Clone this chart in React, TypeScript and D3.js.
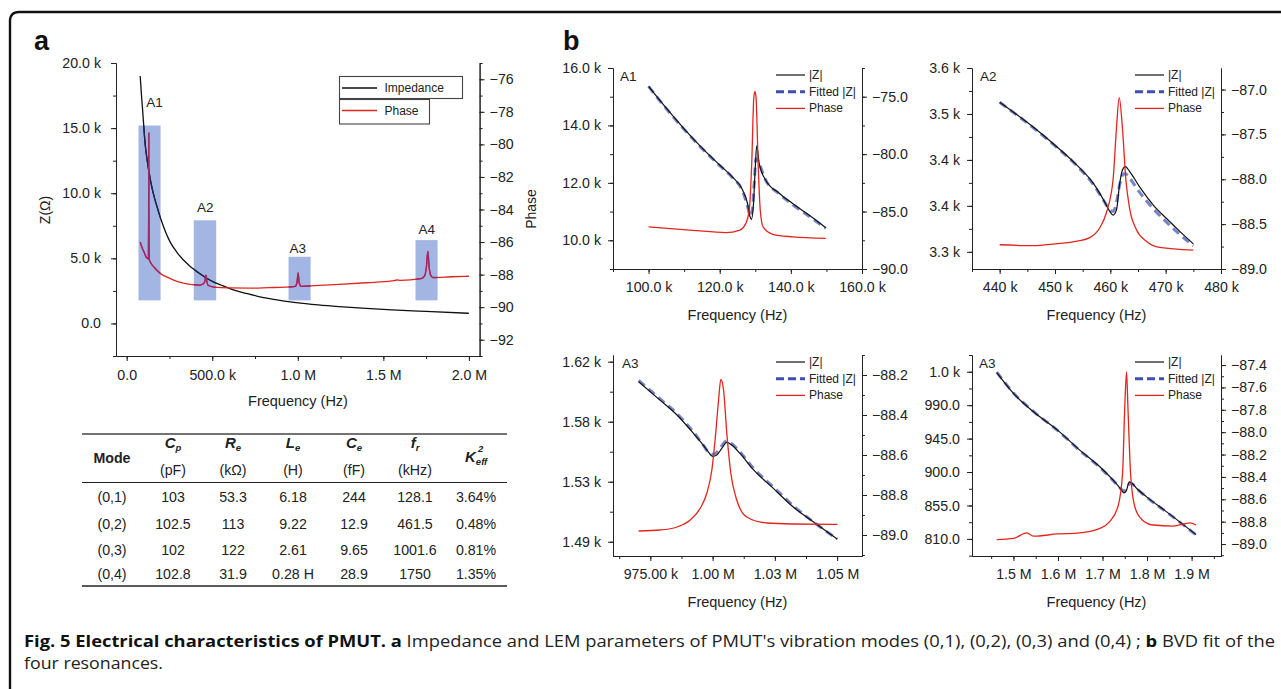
import { useEffect, useRef } from "react";
import * as d3 from "d3";

const FONT = "Liberation Sans, Arial, sans-serif";
const RED = "#e2261d";
const INK = "#111";
const FIT = "#3f4fb0";
const BOX = "#a3b5e3";
const TICK_FS = 14.2;

// ---- panel a: broadband sweep ----
const sweepKHz = [79, 86, 93, 100, 107, 120, 136, 155, 174, 200, 252, 300, 365, 430, 490, 560, 615, 700, 760, 860, 990, 1120, 1240, 1400, 1550, 1750, 2000];
const sweepZk = [19.0, 17.6, 16.4, 15.1, 13.9, 12.5, 11.2, 10.0, 9.1, 8.0, 6.3, 5.35, 4.45, 3.8, 3.3, 2.9, 2.62, 2.3, 2.1, 1.85, 1.6, 1.42, 1.29, 1.15, 1.04, 0.92, 0.78];
const sweepPhaseKHz = [79, 90, 104, 115, 122, 127, 128.3, 129.2, 130, 131.5, 142, 160, 198, 250, 302, 360, 427, 450, 458, 463, 468, 475, 510, 600, 719, 830, 927, 985, 995, 1002, 1008, 1020, 1100, 1240, 1400, 1550, 1580, 1600, 1720, 1740, 1752, 1760, 1768, 1780, 1790, 1900, 2000];
const sweepPhaseDeg = [-86.0, -86.35, -86.67, -86.95, -87.0, -87.05, -84.5, -79.3, -84.5, -87.05, -87.3, -87.55, -87.94, -88.22, -88.45, -88.58, -88.65, -88.55, -88.35, -88.04, -88.4, -88.65, -88.77, -88.82, -88.83, -88.8, -88.77, -88.72, -88.5, -87.9, -88.5, -88.72, -88.68, -88.6, -88.5, -88.39, -88.33, -88.36, -88.25, -88.1, -87.5, -86.57, -87.6, -88.1, -88.18, -88.13, -88.1];

const modeLabels = ["A1", "A2", "A3", "A4"];
const modeStartKHz = [69, 392, 946, 1688];
const modeEndKHz = [198, 523, 1075, 1817];
const modeTopK = [15.2, 7.92, 5.12, 6.4];
const modeBottomK = 1.77;
const modeLabelKHz = [162, 459, 1000, 1754];
const modeLabelK = [17.0, 8.87, 5.79, 7.18];

// ---- panel b: zoomed resonances ----
const a1KHz = [100, 105, 110, 115, 120, 123.6, 126.4, 127.8, 128.5, 128.9, 129.5, 129.96, 130.4, 131.1, 132.9, 136.7, 140.4, 145.1, 149.8];
const a1Zk = [15.36, 14.6, 13.88, 13.22, 12.62, 12.2, 11.76, 11.29, 10.83, 10.73, 11.29, 12.45, 13.29, 12.68, 12.1, 11.64, 11.29, 10.88, 10.44];
const a1FitKHz = [100, 105, 110, 115, 120, 123.6, 126.4, 127.8, 128.6, 129.2, 129.7, 130.2, 130.8, 132.9, 136.7, 140.4, 145.1, 149.8];
const a1FitZk = [15.36, 14.58, 13.86, 13.2, 12.6, 12.18, 11.72, 11.2, 10.85, 11.1, 12.0, 12.85, 12.75, 12.1, 11.62, 11.25, 10.84, 10.42];
const a1PhKHz = [100, 112.4, 121.7, 125.5, 127.3, 128.3, 129, 129.6, 129.9, 130.2, 130.8, 131.4, 132.2, 134.9, 140.5, 149.8];
const a1Ph = [-86.34, -86.63, -86.83, -86.63, -86.05, -84.88, -80.81, -75.0, -74.56, -75.0, -80.81, -84.88, -86.34, -86.98, -87.2, -87.33];

const a2KHz = [440, 446, 450, 454, 457, 458.7, 459.9, 460.5, 461.1, 461.7, 462.2, 462.7, 463.5, 465.3, 467.8, 470.2, 472.6, 475];
const a2Zk = [3.544, 3.504, 3.474, 3.441, 3.411, 3.386, 3.366, 3.36, 3.368, 3.412, 3.434, 3.439, 3.431, 3.406, 3.376, 3.354, 3.333, 3.313];
const a2FitZk = [3.544, 3.503, 3.473, 3.44, 3.409, 3.385, 3.369, 3.366, 3.38, 3.41, 3.425, 3.428, 3.42, 3.397, 3.37, 3.348, 3.328, 3.31];
const a2PhKHz = [440, 446, 450, 454, 456.3, 458.1, 459.3, 460.5, 461.1, 461.6, 462.2, 462.8, 463.5, 464.7, 466.5, 468.9, 475];
const a2Ph = [-88.73, -88.74, -88.72, -88.69, -88.65, -88.54, -88.37, -88.0, -87.44, -87.09, -87.44, -88.0, -88.33, -88.56, -88.69, -88.76, -88.79];

const a3KHz = [970.3, 979, 985.7, 992.4, 996.4, 998.4, 1000, 1001.7, 1003.7, 1005.7, 1007.7, 1011.1, 1016.4, 1024.4, 1032.4, 1040.4, 1050.1];
const a3Zk = [1.605, 1.591, 1.58, 1.566, 1.557, 1.552, 1.549, 1.55, 1.555, 1.5595, 1.5575, 1.551, 1.539, 1.525, 1.511, 1.5, 1.487];
const a3FitZk = [1.606, 1.592, 1.581, 1.567, 1.557, 1.552, 1.5505, 1.552, 1.557, 1.5605, 1.5585, 1.552, 1.54, 1.526, 1.512, 1.5, 1.487];
const a3PhKHz = [970.3, 979, 985.7, 991, 995, 997.7, 999.7, 1001, 1002.4, 1003.3, 1004.4, 1005.7, 1007.3, 1009.7, 1013.7, 1021.7, 1032.4, 1050.2];
const a3Ph = [-88.98, -88.975, -88.96, -88.925, -88.867, -88.79, -88.675, -88.525, -88.325, -88.222, -88.275, -88.49, -88.69, -88.825, -88.91, -88.94, -88.945, -88.947];

const a4MHz = [1.4626, 1.5, 1.545, 1.599, 1.649, 1.698, 1.724, 1.743, 1.748, 1.754, 1.76, 1.765, 1.777, 1.799, 1.844, 1.91];
const a4Z = [1033.7, 1005.8, 981.1, 956.4, 929.5, 904.8, 889, 875.6, 872, 875.6, 886.8, 885.5, 877.8, 866.6, 846.4, 815.8];
const a4FitZ = [1034.5, 1006.5, 981.5, 956, 929, 904, 888.5, 876.5, 874.5, 877, 884, 884.5, 877.5, 866, 846, 815.5];
const a4PhMHz = [1.4626, 1.5, 1.53, 1.545, 1.599, 1.649, 1.694, 1.716, 1.735, 1.745, 1.75, 1.754, 1.757, 1.763, 1.772, 1.788, 1.814, 1.859, 1.896, 1.91];
const a4Ph = [-88.96, -88.95, -88.9, -88.93, -88.91, -88.9, -88.86, -88.8, -88.66, -88.37, -87.77, -87.46, -87.77, -88.37, -88.66, -88.78, -88.83, -88.84, -88.81, -88.83];

// ---- tick labels ----
const aXTicks = [0, 500, 1000, 1500, 2000];
const aXLabels = ["0.0", "500.0 k", "1.0 M", "1.5 M", "2.0 M"];
const aZTicks = [0, 5, 10, 15, 20];
const aZLabels = ["0.0", "5.0 k", "10.0 k", "15.0 k", "20.0 k"];
const aPTicks = [-92, -90, -88, -86, -84, -82, -80, -78, -76];

const b1XTicks = [100, 120, 140, 160];
const b1XLabels = ["100.0 k", "120.0 k", "140.0 k", "160.0 k"];
const b1ZTicks = [10, 12, 14, 16];
const b1ZLabels = ["10.0 k", "12.0 k", "14.0 k", "16.0 k"];
const b1PTicks = [-90, -85, -80, -75];

const b2XTicks = [440, 450, 460, 470, 480];
const b2XLabels = ["440 k", "450 k", "460 k", "470 k", "480 k"];
const b2ZTicks = [3.3, 3.375, 3.45, 3.525, 3.6];
const b2ZLabels = ["3.3 k", "3.4 k", "3.4 k", "3.5 k", "3.6 k"];
const b2PTicks = [-89, -88.5, -88, -87.5, -87];

const b3XTicks = [975, 1000, 1025, 1050];
const b3XLabels = ["975.00 k", "1.00 M", "1.03 M", "1.05 M"];
const b3ZTicks = [1.485, 1.53, 1.575, 1.62];
const b3ZLabels = ["1.49 k", "1.53 k", "1.58 k", "1.62 k"];
const b3PTicks = [-89, -88.8, -88.6, -88.4, -88.2];

const b4XTicks = [1.5, 1.6, 1.7, 1.8, 1.9];
const b4XLabels = ["1.5 M", "1.6 M", "1.7 M", "1.8 M", "1.9 M"];
const b4ZTicks = [810, 855, 900, 945, 990, 1035];
const b4ZLabels = ["810.0", "855.0", "900.0", "945.0", "990.0", "1.0 k"];
const b4PTicks = [-89, -88.8, -88.6, -88.4, -88.2, -88, -87.8, -87.6, -87.4];

// ---- table ----
const tableModes = ["(0,1)", "(0,2)", "(0,3)", "(0,4)"];
const tableCp = ["103", "102.5", "102", "102.8"];
const tableRe = ["53.3", "113", "122", "31.9"];
const tableLe = ["6.18", "9.22", "2.61", "0.28 H"];
const tableCe = ["244", "12.9", "9.65", "28.9"];
const tableFr = ["128.1", "461.5", "1001.6", "1750"];
const tableK = ["3.64%", "0.48%", "0.81%", "1.35%"];

type Pt = [number, number];
const zip = (xs: number[], ys: number[]): Pt[] => xs.map((x, i) => [x, ys[i]]);
const minus = (v: number, digits: number) => (v < 0 ? "\u2212" : "") + Math.abs(v).toFixed(digits);
const mids = (t: number[]) => {
  const step = (t[1] - t[0]) / 2;
  return d3.range(t[0] - step, t[t.length - 1] + step * 1.01, step);
};

function styleAxis(sel: any, fs: number) {
  sel.attr("font-family", FONT).attr("font-size", fs);
  sel.selectAll("path,line").attr("stroke", "#222").attr("stroke-width", 1);
  sel.selectAll("text").attr("fill", "#222");
}

function drawAxes(g: any, x: any, yL: any, yR: any, o: any) {
  const [x0, x1] = x.range();
  const yb = yL.range()[0];
  const fmt = (ticks: number[], labels: string[]) => (d: number) => labels[ticks.indexOf(d)] ?? "";
  const bottom = g.append("g").attr("transform", `translate(0,${yb})`);
  bottom.append("g").call(d3.axisBottom(x).tickValues(o.xMinor.filter((v: number) => x(v) >= x0 - 0.5 && x(v) <= x1 + 0.5)).tickSize(3).tickFormat(() => "").tickSizeOuter(0)).call(styleAxis, o.fs);
  bottom.append("g").call(d3.axisBottom(x).tickValues(o.xTicks).tickSize(5).tickPadding(o.padB).tickFormat(fmt(o.xTicks, o.xLabels)).tickSizeOuter(0)).call(styleAxis, o.fs);

  const left = g.append("g").attr("transform", `translate(${x0},0)`);
  left.append("g").call(d3.axisLeft(yL).tickValues(o.lMinor.filter((v: number) => v >= yL.domain()[0] && v <= yL.domain()[1])).tickSize(3).tickFormat(() => "").tickSizeOuter(0)).call(styleAxis, o.fs);
  left.append("g").call(d3.axisLeft(yL).tickValues(o.lTicks).tickSize(5).tickPadding(o.padL).tickFormat(fmt(o.lTicks, o.lLabels)).tickSizeOuter(0)).call(styleAxis, o.fs);

  const right = g.append("g").attr("transform", `translate(${x1},0)`);
  right.append("g").call(d3.axisRight(yR).tickValues(o.rMinor.filter((v: number) => v >= yR.domain()[0] - 1e-9 && v <= yR.domain()[1] + 1e-9)).tickSize(3).tickFormat(() => "").tickSizeOuter(0)).call(styleAxis, o.fs);
  right.append("g").call(d3.axisRight(yR).tickValues(o.rTicks).tickSize(5).tickPadding(o.padR).tickFormat((d: number) => minus(d, o.rDigits)).tickSizeOuter(0)).call(styleAxis, o.fs);
}

function drawPanelA(svg: any) {
  const g = svg.append("g");
  const x = d3.scaleLinear().domain([-62.5, 2062.5]).range([116, 479.6]);
  const yZ = d3.scaleLinear().domain([-2.5, 20]).range([356, 63]);
  const yP = d3.scaleLinear().domain([-93, -75]).range([356, 63]);

  drawAxes(g, x, yZ, yP, {
    fs: TICK_FS, padB: 9, padL: 10, padR: 5, rDigits: 0,
    xTicks: aXTicks, xLabels: aXLabels, xMinor: d3.range(0, 2001, 250),
    lTicks: aZTicks, lLabels: aZLabels, lMinor: d3.range(-2.5, 20.01, 2.5),
    rTicks: aPTicks, rMinor: d3.range(-93, -74.9, 1),
  });

  const zLine = d3.line<Pt>().x((d) => x(d[0])).y((d) => yZ(d[1])).curve(d3.curveMonotoneX);
  const pLine = d3.line<Pt>().x((d) => x(d[0])).y((d) => yP(d[1])).curve(d3.curveMonotoneX);
  const zData = zip(sweepKHz, sweepZk);
  const pData = zip(sweepPhaseKHz, sweepPhaseDeg);

  g.selectAll("rect.mode")
    .data(modeLabels)
    .join("rect")
    .attr("class", "mode")
    .attr("x", (_: string, i: number) => x(modeStartKHz[i]))
    .attr("width", (_: string, i: number) => x(modeEndKHz[i]) - x(modeStartKHz[i]))
    .attr("y", (_: string, i: number) => yZ(modeTopK[i]))
    .attr("height", (_: string, i: number) => yZ(modeBottomK) - yZ(modeTopK[i]))
    .attr("fill", BOX);

  g.append("path").attr("d", zLine(zData)).attr("fill", "none").attr("stroke", INK).attr("stroke-width", 1.3);
  g.append("path").attr("d", pLine(pData)).attr("fill", "none").attr("stroke", RED).attr("stroke-width", 1.3);

  // line segments seen through the blue windows
  const clip = svg.append("defs").append("clipPath").attr("id", "mode-clip");
  modeLabels.forEach((_, i) => {
    clip.append("rect")
      .attr("x", x(modeStartKHz[i]))
      .attr("width", x(modeEndKHz[i]) - x(modeStartKHz[i]))
      .attr("y", yZ(modeTopK[i]))
      .attr("height", yZ(modeBottomK) - yZ(modeTopK[i]));
  });
  const inside = g.append("g").attr("clip-path", "url(#mode-clip)");
  inside.append("path").attr("d", zLine(zData)).attr("fill", "none").attr("stroke", "#1e2850").attr("stroke-width", 1.3);
  inside.append("path").attr("d", pLine(pData)).attr("fill", "none").attr("stroke", "#9a2a6a").attr("stroke-width", 1.4);

  g.selectAll("text.mode")
    .data(modeLabels)
    .join("text")
    .attr("class", "mode")
    .attr("x", (_: string, i: number) => x(modeLabelKHz[i]))
    .attr("y", (_: string, i: number) => yZ(modeLabelK[i]))
    .attr("text-anchor", "middle")
    .attr("dominant-baseline", "central")
    .attr("font-family", FONT)
    .attr("font-size", 13.5)
    .attr("fill", "#222")
    .text((d: string) => d);

  // legend
  const lg = g.append("g").attr("font-family", FONT).attr("font-size", 12).attr("fill", "#222");
  lg.append("rect").attr("x", 339.5).attr("y", 76.5).attr("width", 123).attr("height", 22).attr("fill", "#fff").attr("stroke", "#444").attr("stroke-width", 1.1);
  lg.append("rect").attr("x", 339.5).attr("y", 99.5).attr("width", 90).attr("height", 24.5).attr("fill", "#fff").attr("stroke", "#444").attr("stroke-width", 1.1);
  lg.append("line").attr("x1", 342).attr("x2", 377).attr("y1", 88).attr("y2", 88).attr("stroke", INK).attr("stroke-width", 1.3);
  lg.append("line").attr("x1", 342).attr("x2", 377).attr("y1", 110.5).attr("y2", 110.5).attr("stroke", RED).attr("stroke-width", 1.3);
  lg.append("text").attr("x", 384.5).attr("y", 88).attr("dominant-baseline", "central").text("Impedance");
  lg.append("text").attr("x", 384.5).attr("y", 110.5).attr("dominant-baseline", "central").text("Phase");

  const labels = g.append("g").attr("font-family", FONT).attr("fill", "#222");
  labels.append("text").attr("x", 298).attr("y", 406).attr("text-anchor", "middle").attr("font-size", 14.5).text("Frequency (Hz)");
  labels.append("text").attr("transform", "translate(50,210) rotate(-90)").attr("text-anchor", "middle").attr("font-size", 14).text("Z(\u03a9)");
  labels.append("text").attr("transform", "translate(536,209) rotate(-90)").attr("text-anchor", "middle").attr("font-size", 14).text("Phase");
  labels.append("text").attr("x", 34).attr("y", 50).attr("font-size", 27).attr("font-weight", "bold").attr("fill", "#111").text("a");
}

const PANELS_B = [
  {
    tag: "A1", left: 613, right: 862, top: 68, bottom: 269, xDom: [90, 160], zDom: [9, 16], pDom: [-90, -72.5],
    z: zip(a1KHz, a1Zk), fit: zip(a1FitKHz, a1FitZk), ph: zip(a1PhKHz, a1Ph),
    xTicks: b1XTicks, xLabels: b1XLabels, zTicks: b1ZTicks, zLabels: b1ZLabels, pTicks: b1PTicks, rDigits: 1,
    tagAt: [620, 81], legendAt: [776, 75],
  },
  {
    tag: "A2", left: 972, right: 1221, top: 68, bottom: 269, xDom: [435, 480], zDom: [3.272, 3.6], pDom: [-89, -86.76],
    z: zip(a2KHz, a2Zk), fit: zip(a2KHz, a2FitZk), ph: zip(a2PhKHz, a2Ph),
    xTicks: b2XTicks, xLabels: b2XLabels, zTicks: b2ZTicks, zLabels: b2ZLabels, pTicks: b2PTicks, rDigits: 1,
    tagAt: [980, 81], legendAt: [1135, 75],
  },
  {
    tag: "A3", left: 613, right: 862, top: 355, bottom: 556, xDom: [960, 1060], zDom: [1.4743, 1.625], pDom: [-89.105, -88.1],
    z: zip(a3KHz, a3Zk), fit: zip(a3KHz, a3FitZk), ph: zip(a3PhKHz, a3Ph),
    xTicks: b3XTicks, xLabels: b3XLabels, zTicks: b3ZTicks, zLabels: b3ZLabels, pTicks: b3PTicks, rDigits: 1,
    tagAt: [622, 368], legendAt: [776, 362],
  },
  {
    tag: "A3", left: 972, right: 1221, top: 355, bottom: 556, xDom: [1.407, 1.966], zDom: [787, 1057.5], pDom: [-89.107, -87.31],
    z: zip(a4MHz, a4Z), fit: zip(a4MHz, a4FitZ), ph: zip(a4PhMHz, a4Ph),
    xTicks: b4XTicks, xLabels: b4XLabels, zTicks: b4ZTicks, zLabels: b4ZLabels, pTicks: b4PTicks, rDigits: 1,
    tagAt: [979, 368], legendAt: [1135, 362],
  },
];

function drawPanelB(svg: any, p: any) {
  const g = svg.append("g");
  const x = d3.scaleLinear().domain(p.xDom).range([p.left, p.right]);
  const yZ = d3.scaleLinear().domain(p.zDom).range([p.bottom, p.top]);
  const yP = d3.scaleLinear().domain(p.pDom).range([p.bottom, p.top]);

  drawAxes(g, x, yZ, yP, {
    fs: TICK_FS, padB: 8, padL: 7, padR: 5, rDigits: p.rDigits,
    xTicks: p.xTicks, xLabels: p.xLabels, xMinor: mids(p.xTicks),
    lTicks: p.zTicks, lLabels: p.zLabels, lMinor: mids(p.zTicks),
    rTicks: p.pTicks, rMinor: mids(p.pTicks),
  });

  const zLine = d3.line<Pt>().x((d) => x(d[0])).y((d) => yZ(d[1])).curve(d3.curveMonotoneX);
  const pLine = d3.line<Pt>().x((d) => x(d[0])).y((d) => yP(d[1])).curve(d3.curveMonotoneX);

  g.append("path").attr("d", zLine(p.fit)).attr("fill", "none").attr("stroke", FIT).attr("stroke-opacity", 0.7)
    .attr("stroke-width", 3).attr("stroke-dasharray", "8 5");
  g.append("path").attr("d", zLine(p.z)).attr("fill", "none").attr("stroke", INK).attr("stroke-width", 1.2);
  g.append("path").attr("d", pLine(p.ph)).attr("fill", "none").attr("stroke", RED).attr("stroke-width", 1.3);

  g.append("text").attr("x", p.tagAt[0]).attr("y", p.tagAt[1]).attr("font-family", FONT).attr("font-size", 13.5).attr("fill", "#222").text(p.tag);

  const [lx, ly] = p.legendAt;
  const rows = [
    { name: "|Z|", stroke: INK, w: 1.2, dash: null },
    { name: "Fitted |Z|", stroke: FIT, w: 3, dash: "8 4" },
    { name: "Phase", stroke: RED, w: 1.3, dash: null },
  ];
  const lg = g.append("g").attr("font-family", FONT).attr("font-size", 12).attr("fill", "#222");
  rows.forEach((r, i) => {
    const yy = ly + i * 16.7;
    lg.append("line").attr("x1", lx).attr("x2", lx + 29).attr("y1", yy).attr("y2", yy)
      .attr("stroke", r.stroke).attr("stroke-width", r.w).attr("stroke-dasharray", r.dash);
    lg.append("text").attr("x", lx + 33).attr("y", yy).attr("dominant-baseline", "central").text(r.name);
  });

  g.append("text").attr("x", (p.left + p.right) / 2).attr("y", p.bottom + 51).attr("text-anchor", "middle")
    .attr("font-family", FONT).attr("font-size", 14.5).attr("fill", "#222").text("Frequency (Hz)");
}

function drawTable(svg: any) {
  const g = svg.append("g").attr("font-family", FONT).attr("fill", "#222");
  const cols = [112, 173, 233, 293, 354, 415, 476];
  const rowY = [497, 524, 549.5, 574];
  g.append("line").attr("x1", 82).attr("x2", 507).attr("y1", 434).attr("y2", 434).attr("stroke", "#444").attr("stroke-width", 1.6);
  g.append("line").attr("x1", 82).attr("x2", 507).attr("y1", 482.5).attr("y2", 482.5).attr("stroke", "#222").attr("stroke-width", 1.2);
  g.append("line").attr("x1", 82).attr("x2", 507).attr("y1", 586).attr("y2", 586).attr("stroke", "#222").attr("stroke-width", 1.4);

  g.append("text").attr("x", cols[0]).attr("y", 458).attr("text-anchor", "middle").attr("dominant-baseline", "central")
    .attr("font-size", 14.2).attr("font-weight", "bold").text("Mode");

  const heads = [["C", "p", "(pF)"], ["R", "e", "(k\u03a9)"], ["L", "e", "(H)"], ["C", "e", "(fF)"], ["f", "r", "(kHz)"]];
  heads.forEach((h, i) => {
    const t = g.append("text").attr("x", cols[i + 1]).attr("y", 448).attr("text-anchor", "middle")
      .attr("font-size", 15).attr("font-weight", "bold").attr("font-style", "italic");
    t.append("tspan").text(h[0]);
    t.append("tspan").attr("font-size", 9.5).attr("dy", 3).text(h[1]);
    g.append("text").attr("x", cols[i + 1]).attr("y", 475).attr("text-anchor", "middle").attr("font-size", 14.2).text(h[2]);
  });
  const k = g.append("text").attr("x", cols[6] - 11).attr("y", 462).attr("font-size", 15).attr("font-weight", "bold").attr("font-style", "italic");
  k.append("tspan").text("K");
  k.append("tspan").attr("font-size", 9.5).attr("dy", 3).text("eff");
  g.append("text").attr("x", cols[6] + 2).attr("y", 452).attr("font-size", 9.5).attr("font-weight", "bold").attr("font-style", "italic").text("2");

  const columns = [tableModes, tableCp, tableRe, tableLe, tableCe, tableFr, tableK];
  columns.forEach((col, c) => {
    g.selectAll(null)
      .data(col)
      .join("text")
      .attr("x", cols[c])
      .attr("y", (_: string, i: number) => rowY[i])
      .attr("text-anchor", "middle")
      .attr("dominant-baseline", "central")
      .attr("font-size", 14.2)
      .text((d: string) => d);
  });
}

function drawCaption(svg: any) {
  svg.append("path").attr("d", "M10,689 V21 Q10,12 19,12 H1281").attr("fill", "none").attr("stroke", "#111").attr("stroke-width", 2.4);
  svg.append("text").attr("x", 563).attr("y", 50).attr("font-family", FONT).attr("font-size", 27).attr("font-weight", "bold").attr("fill", "#111").text("b");

  const t = svg.append("text").attr("x", 24).attr("y", 647).attr("font-family", "Open Sans, sans-serif").attr("font-size", 15.5)
    .attr("fill", "#222").attr("textLength", 1251).attr("lengthAdjust", "spacingAndGlyphs");
  t.append("tspan").attr("font-weight", "bold").attr("fill", "#111").text("Fig. 5 Electrical characteristics of PMUT. a");
  t.append("tspan").text(" Impedance and LEM parameters of PMUT's vibration modes (0,1), (0,2), (0,3) and (0,4) ; ");
  t.append("tspan").attr("font-weight", "bold").attr("fill", "#111").text("b");
  t.append("tspan").text(" BVD fit of the");
  svg.append("text").attr("x", 24).attr("y", 669).attr("font-family", "Open Sans, sans-serif").attr("font-size", 15.5)
    .attr("fill", "#222").attr("textLength", 139).attr("lengthAdjust", "spacingAndGlyphs").text("four resonances.");
}

export default function App() {
  const ref = useRef<SVGSVGElement | null>(null);

  useEffect(() => {
    const svg = d3.select(ref.current);
    svg.selectAll("*").remove();
    drawPanelA(svg);
    PANELS_B.forEach((p) => drawPanelB(svg, p));
    drawTable(svg);
    drawCaption(svg);
  }, []);

  return (
    <svg
      ref={ref}
      width={1281}
      height={689}
      style={{ position: "absolute", left: 0, top: 0, background: "#fff" }}
    />
  );
}
